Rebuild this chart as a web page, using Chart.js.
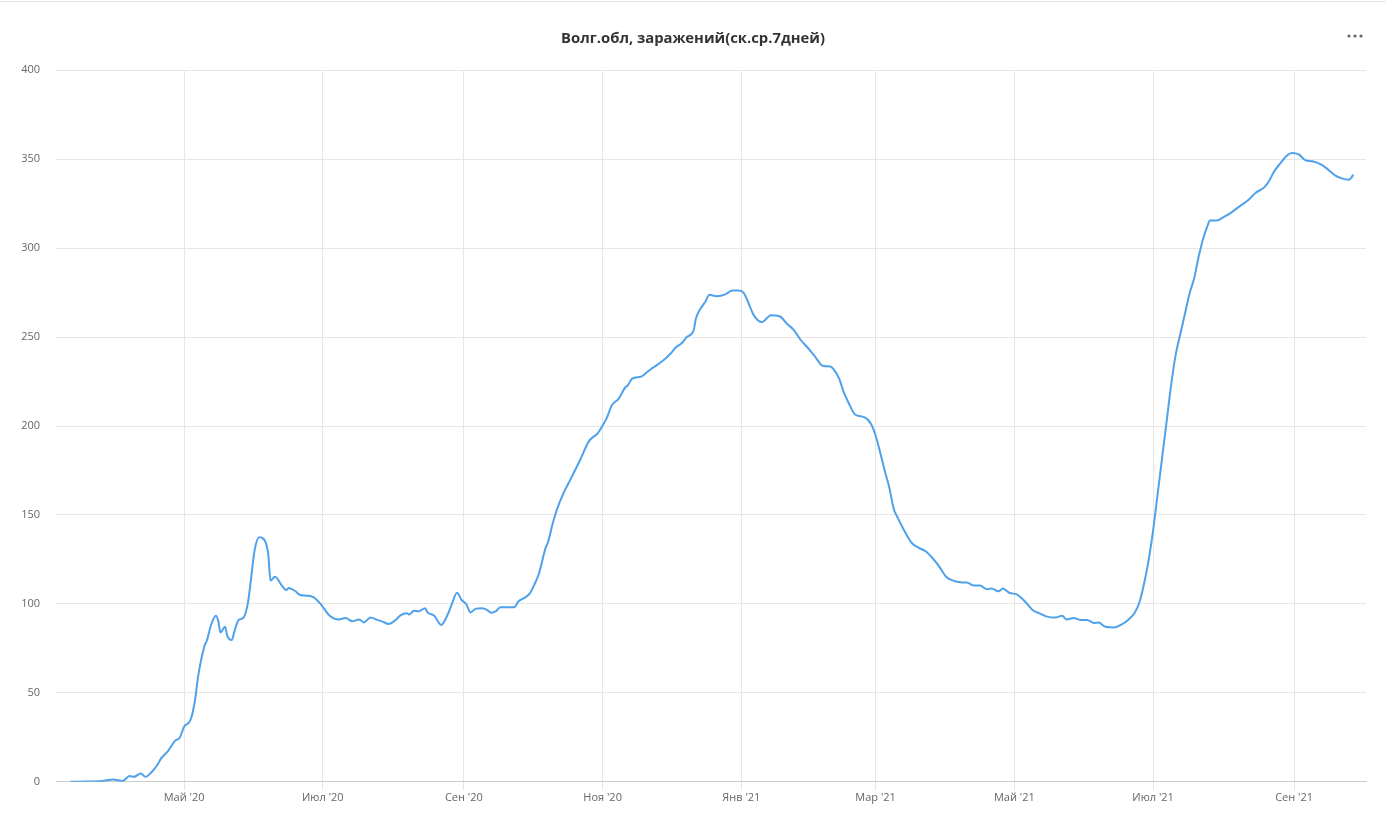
<!DOCTYPE html>
<html>
<head>
<meta charset="utf-8">
<script src="https://cdn.jsdelivr.net/npm/chart.js@4"></script>
<style>
  html, body { margin: 0; padding: 0; background: #fff; }
  #wrap { position: relative; width: 1386px; height: 823px; }
  #topLine { position: absolute; left: 0; top: 1px; width: 1386px; height: 1px; background: #e6e6e6; }
</style>
</head>
<body>
<div id="wrap">
  <canvas id="covidChart" width="1386" height="823"></canvas>
  <div id="topLine"></div>
</div>
<script>
// ----- Data (days since 2020-03-01) -----
const dayOffsets = [
  11, 18, 25, 30, 34, 37, 39, 42, 44, 47, 49, 51, 54, 57, 59, 61, 64, 66, 67, 70,
  71, 73, 75, 76, 77, 79, 80, 82, 83, 85, 87, 89, 90, 92, 94, 96, 98, 99, 101, 104,
  106, 107, 110, 112, 115, 118, 121, 125, 129, 132, 135, 138, 140, 143, 146, 148, 151, 154, 156, 159,
  160, 162, 164, 167, 168, 171, 174, 177, 179, 181, 183, 185, 187, 189, 192, 194, 196, 198, 200, 203,
  206, 208, 211, 213, 215, 217, 220, 221, 223, 225, 228, 231, 235, 239, 243, 245, 247, 249, 252, 255,
  256, 258, 262, 265, 267, 269, 272, 275, 277, 280, 282, 285, 286, 288, 290, 292, 295, 299, 302, 305,
  307, 309, 311, 313, 315, 319, 323, 326, 329, 332, 335, 338, 342, 345, 347, 349, 351, 353, 356, 360,
  363, 365, 367, 369, 371, 373, 375, 378, 381, 384, 387, 390, 393, 396, 400, 403, 405, 408, 411, 414,
  416, 419, 421, 424, 427, 429, 431, 434, 437, 440, 444, 447, 449, 452, 455, 458, 461, 463, 466, 470,
  473, 476, 479, 481, 483, 485, 487, 489, 491, 493, 495, 497, 499, 501, 503, 505, 507, 509, 511, 512,
  515, 518, 521, 525, 529, 532, 536, 538, 540, 543, 546, 548, 551, 554, 557, 561, 564, 567, 570, 573,
  574, 575
];
const casesAvg = [
  0, 0.1, 0.5, 1.3, 0.5, 3.2, 2.8, 4.7, 2.8, 5.8, 9, 13.3, 17.4, 23, 24.6, 30.9, 35.3, 47.4, 57.8, 76.5,
  79.3, 88.7, 93.4, 90.6, 84, 87.2, 82.1, 79.7, 84, 91, 92.1, 100, 109.3, 130, 137.5, 136.5, 128.1, 113.1, 115.3, 110.3,
  107.8, 109, 107.1, 105, 104.6, 103.7, 100, 93.4, 91.3, 92.1, 90.2, 91.3, 89.6, 92.4, 91, 90.2, 88.7, 91, 93.4, 94.7,
  94, 96.2, 95.8, 97.6, 95.2, 93.4, 88.2, 94.3, 100.9, 106.3, 102.2, 100, 95.2, 97.2, 97.6, 96.8, 95.1, 95.8, 98.1, 98.1,
  98.1, 101.4, 103.7, 105.9, 110.8, 117, 131.8, 134.6, 144.9, 153.4, 162.8, 170.3, 180.6, 191.5, 196.2, 200.3, 205, 211.5, 215.3, 221.8,
  222.8, 226.6, 227.8, 230.8, 232.7, 234.4, 237.2, 240.9, 244, 246.8, 250, 253.7, 260.3, 265.9, 269.6, 273.8, 273, 274, 276.2, 276.2,
  274.9, 269.6, 263.4, 259.7, 258.4, 262.3, 261.6, 257.5, 254.1, 248.5, 244.3, 239.7, 233.7, 233.5, 231.2, 226.6, 219, 213.4, 206.5, 205,
  201.2, 194.7, 185.3, 175, 165.6, 153.4, 147.8, 140.3, 134.1, 131.5, 129.6, 125.8, 121, 115.3, 112.7, 112.1, 112.1, 110.4, 110.3, 108.2,
  108.7, 107.1, 108.6, 106.1, 105.4, 103.4, 100.9, 96.6, 94.7, 93, 92.3, 93.4, 91.3, 92.1, 91, 91, 89.3, 89.5, 87.2, 86.8,
  88.3, 91, 95.2, 100.9, 111.2, 124.3, 141.2, 161.8, 182.5, 203.1, 223.7, 240.6, 251.9, 263.1, 274.4, 282.8, 295, 305.3, 312.8, 315.6,
  315.6, 317.5, 319.7, 323.5, 327.2, 331, 334.3, 337.7, 342.7, 347.8, 352.2, 353.5, 352.7, 349.4, 348.8, 346.9, 344.1, 340.9, 339.2, 338.5,
  339.4, 341.3
];

// month ticks (days since 2020-03-01) and their labels
const monthTicks = [61, 122, 184, 245, 306, 365, 426, 487, 549];
const monthLabels = ["Май '20", "Июл '20", "Сен '20", "Ноя '20", "Янв '21", "Мар '21", "Май '21", "Июл '21", "Сен '21"];

const chartTitle = "Волг.обл, заражений(ск.ср.7дней)";

// ----- Menu dots (top right) -----
const menuDots = {
  id: "menuDots",
  afterDraw(chart) {
    const c = chart.ctx;
    c.save();
    c.fillStyle = "#666666";
    [1349, 1355, 1361].forEach((x) => {
      c.beginPath();
      c.arc(x, 36, 1.6, 0, Math.PI * 2);
      c.fill();
    });
    c.restore();
  }
};

const FONT = "'Open Sans', 'Liberation Sans', sans-serif";

const ctx = document.getElementById("covidChart").getContext("2d");
new Chart(ctx, {
  type: "line",
  data: {
    datasets: [
      {
        label: chartTitle,
        data: dayOffsets.map((d, i) => ({ x: d, y: casesAvg[i] })),
        borderColor: "#4ea1ea",
        borderWidth: 2,
        pointRadius: 0,
        fill: false,
        cubicInterpolationMode: "monotone"
      }
    ]
  },
  options: {
    responsive: false,
    animation: false,
    layout: { padding: { left: 0, right: 0, top: 0, bottom: 18 } },
    plugins: {
      legend: { display: false },
      tooltip: { enabled: false },
      title: {
        display: true,
        text: chartTitle,
        color: "#333333",
        font: { family: FONT, size: 14.8, weight: "bold" },
        padding: { top: 30, bottom: 22.5 }
      }
    },
    scales: {
      x: {
        type: "linear",
        min: 4.7,
        max: 580.6,
        afterBuildTicks: (scale) => {
          scale.ticks = monthTicks.map((v) => ({ value: v }));
        },
        ticks: {
          autoSkip: false,
          maxRotation: 0,
          padding: 1,
          color: "#666666",
          font: { family: FONT, size: 11 },
          callback: (v) => monthLabels[monthTicks.indexOf(v)]
        },
        grid: { color: "#e6e6e6", tickColor: "#e6e6e6", tickLength: 8, drawTicks: true },
        border: { color: "#cccccc", width: 1 }
      },
      y: {
        min: 0,
        max: 400,
        afterFit: (scale) => { scale.width = 56; },
        ticks: {
          stepSize: 50,
          padding: 16,
          color: "#666666",
          font: { family: FONT, size: 11 }
        },
        grid: { color: "#e6e6e6", drawTicks: false },
        border: { display: false }
      },
      // empty right margin so the title centres on the whole page
      yRight: {
        position: "right",
        min: 0,
        max: 400,
        afterFit: (scale) => { scale.width = 20; },
        ticks: { display: false },
        grid: { display: false, drawTicks: false },
        border: { display: false }
      }
    }
  },
  plugins: [menuDots]
});
</script>
</body>
</html>
